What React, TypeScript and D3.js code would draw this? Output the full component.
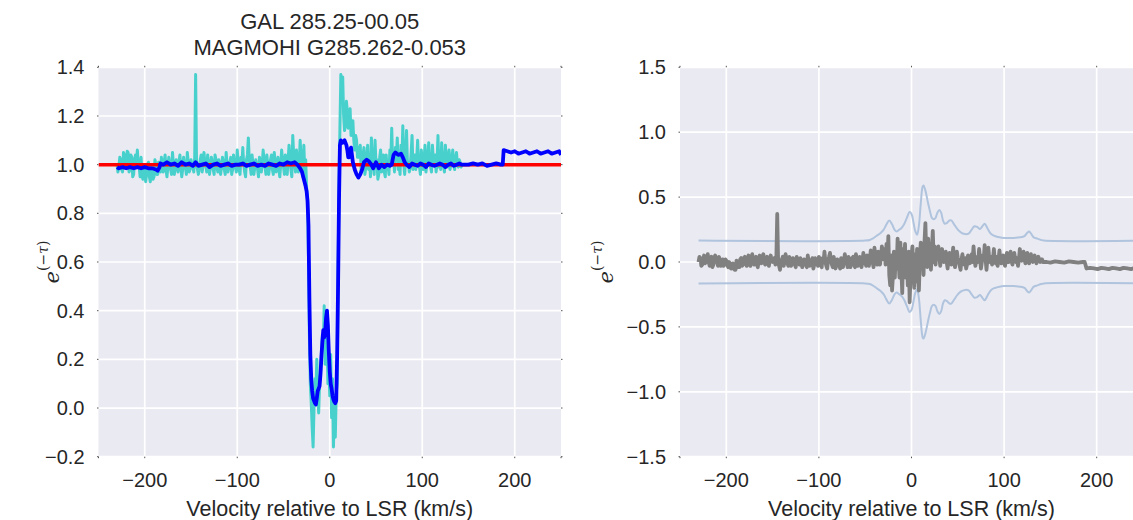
import React from "react";
import * as d3 from "d3";

// ---------- DATA ----------
const xTicks = [-200, -100, 0, 100, 200];
const leftYTicks = [-0.2, 0, 0.2, 0.4, 0.6, 0.8, 1.0, 1.2, 1.4];
const rightYTicks = [-1.5, -1.0, -0.5, 0.0, 0.5, 1.0, 1.5];
const titleLines = ["GAL 285.25-00.05", "MAGMOHI G285.262-0.053"];
const xLabel = "Velocity relative to LSR (km/s)";

// observed absorption spectrum (turquoise): [velocity, e^-tau]
const observed: [number, number][] = [
  [-230, 1.0], [-229, 0.97], [-228, 0.99], [-227, 1.03], [-226, 1.02], [-225, 0.98], [-224, 0.97], [-223, 1.05], [-222, 1.04], [-221, 0.99], [-220, 1.0],
  [-219, 1.055], [-218, 1.05], [-217, 0.97], [-216, 0.98], [-215, 1.04], [-214, 1.03], [-213, 0.95], [-212, 0.96], [-211, 1.02], [-210, 1.04],
  [-209, 1.0], [-208, 1.06], [-207, 1.0], [-206, 0.99], [-205, 0.95], [-204, 1.03], [-203, 0.96], [-202, 0.94], [-201, 1.0], [-200, 0.99],
  [-199, 0.93], [-198, 0.96], [-197, 1.0], [-196, 1.01], [-195, 0.95], [-194, 0.93], [-193, 0.99], [-192, 0.98], [-191, 0.94], [-190, 0.95],
  [-189, 1.02], [-188, 1.0], [-187, 0.96], [-186, 0.96], [-185, 1.01], [-184, 0.99], [-183, 0.97], [-182, 1.03], [-181, 1.0], [-180, 0.97],
  [-179, 1.01], [-178, 1.04], [-177, 0.98], [-176, 0.95], [-175, 0.99], [-174, 1.03], [-173, 1.0], [-172, 0.98], [-171, 0.96], [-170, 1.05],
  [-169, 1.0], [-168, 0.96], [-167, 0.99], [-166, 1.02], [-165, 1.0], [-164, 0.97], [-163, 1.01], [-162, 1.04], [-161, 0.99], [-160, 0.95],
  [-159, 0.98], [-158, 1.03], [-157, 1.0], [-156, 0.99], [-155, 0.96], [-154, 1.05], [-153, 1.01], [-152, 0.97], [-151, 0.98], [-150, 1.02],
  [-149, 1.0], [-148, 0.99], [-147, 0.97], [-146, 1.03], [-145, 1.37], [-144, 1.0], [-143, 0.98], [-142, 0.96], [-141, 0.99], [-140, 1.02],
  [-139, 1.04], [-138, 0.97], [-137, 0.99], [-136, 1.05], [-135, 1.01], [-134, 1.0], [-133, 0.97], [-132, 1.04], [-131, 1.0], [-130, 0.96],
  [-129, 0.99], [-128, 1.03], [-127, 1.01], [-126, 0.98], [-125, 0.96], [-124, 1.04], [-123, 1.02], [-122, 0.99], [-121, 0.97], [-120, 1.02],
  [-119, 1.0], [-118, 0.96], [-117, 0.99], [-116, 1.03], [-115, 1.01], [-114, 0.98], [-113, 0.96], [-112, 1.05], [-111, 1.0], [-110, 0.97],
  [-109, 0.99], [-108, 1.01], [-107, 1.03], [-106, 0.96], [-105, 0.98], [-104, 1.04], [-103, 1.0], [-102, 0.99], [-101, 0.97], [-100, 1.06],
  [-99, 1.01], [-98, 0.98], [-97, 0.96], [-96, 1.03], [-95, 1.0], [-94, 1.07], [-93, 1.0], [-92, 0.97], [-91, 0.95], [-90, 1.02],
  [-89, 1.04], [-88, 1.11], [-87, 1.02], [-86, 0.99], [-85, 0.96], [-84, 1.04], [-83, 1.0], [-82, 0.96], [-81, 0.99], [-80, 1.02],
  [-79, 1.0], [-78, 0.98], [-77, 0.95], [-76, 1.03], [-75, 1.01], [-74, 0.97], [-73, 1.0], [-72, 1.06], [-71, 1.02], [-70, 0.99],
  [-69, 0.96], [-68, 1.04], [-67, 1.0], [-66, 0.96], [-65, 0.99], [-64, 1.02], [-63, 1.04], [-62, 0.98], [-61, 0.96], [-60, 1.05],
  [-59, 1.01], [-58, 0.97], [-57, 0.99], [-56, 1.03], [-55, 0.98], [-54, 0.95], [-53, 1.0], [-52, 1.06], [-51, 1.02], [-50, 0.99],
  [-49, 0.96], [-48, 1.04], [-47, 1.0], [-46, 0.96], [-45, 1.02], [-44, 1.08], [-43, 1.03], [-42, 0.98], [-41, 0.95], [-40, 1.12],
  [-39, 1.04], [-38, 1.0], [-37, 0.97], [-36, 1.06], [-35, 1.01], [-34, 0.97], [-33, 1.0], [-32, 1.1], [-31, 1.03], [-30, 0.99],
  [-29, 0.95], [-28, 1.08], [-27, 0.97], [-26, 1.02], [-25, 0.9], [-24, 0.86], [-23, 0.62], [-22, 0.3], [-21, 0.1],
  [-20, 0.02], [-19, -0.08], [-18, -0.16], [-17, 0.0], [-16, 0.12], [-15, 0.05], [-14, 0.2], [-13, 0.06],
  [-12, -0.02], [-11, 0.1], [-10, 0.14], [-9, 0.22], [-8, 0.3], [-7, 0.25], [-6, 0.42], [-5, 0.18],
  [-4, 0.3], [-3, 0.34], [-2, 0.1], [-1, 0.18], [0, 0.05], [1, 0.22], [2, -0.04], [3, 0.12],
  [4, -0.16], [5, 0.02], [6, -0.12], [7, 0.06], [8, 0.1], [9, 0.55], [10, 0.92], [11, 1.15],
  [12, 1.37], [13, 1.3], [14, 1.36], [15, 1.2], [16, 1.14], [17, 1.16], [18, 1.26], [19, 1.22],
  [20, 1.15], [21, 1.18], [22, 1.23], [23, 1.12], [24, 1.14], [25, 1.18], [26, 1.1], [27, 1.06],
  [28, 1.12], [29, 1.1], [30, 1.03], [31, 1.07], [32, 1.03], [33, 1.08], [34, 0.97],
  [35, 1.0], [36, 1.04], [37, 1.07], [38, 0.96], [39, 0.99], [40, 1.03], [41, 1.08], [42, 0.98], [43, 1.03], [44, 0.95], [45, 1.11], [46, 1.02], [47, 1.0], [48, 0.96], [49, 1.1],
  [50, 1.0], [51, 1.02], [52, 0.94], [53, 0.96], [54, 1.03], [55, 1.06], [56, 0.97], [57, 1.01], [58, 1.04], [59, 0.97], [60, 0.95], [61, 1.04], [62, 0.98], [63, 1.0], [64, 0.96], [65, 1.06],
  [66, 1.01], [67, 1.15], [68, 1.0], [69, 1.03], [70, 0.97], [71, 1.07], [72, 1.02], [73, 1.11], [74, 0.98], [75, 1.0], [76, 0.96], [77, 1.08], [78, 1.01], [79, 1.16], [80, 1.0], [81, 0.96],
  [82, 1.02], [83, 1.14], [84, 1.0], [85, 1.01], [86, 0.97], [87, 0.99], [88, 1.05], [89, 1.12], [90, 0.98], [91, 1.0], [92, 1.04], [93, 0.98], [94, 1.02], [95, 1.1], [96, 1.0], [97, 0.99],
  [98, 0.96], [99, 1.06], [100, 1.0], [101, 0.98], [102, 1.02], [103, 1.08], [104, 0.97], [105, 1.0], [106, 1.03], [107, 1.09], [108, 1.0], [109, 0.99], [110, 0.97], [111, 1.08], [112, 1.02], [113, 1.0],
  [114, 1.04], [115, 0.97], [116, 1.01], [117, 1.12], [118, 0.99], [119, 1.02], [120, 0.98], [121, 1.09], [122, 1.01], [123, 1.0], [124, 0.97], [125, 1.08], [126, 1.02], [127, 0.99], [128, 1.03], [129, 1.06],
  [130, 0.98], [131, 1.0], [132, 1.03], [133, 1.06], [134, 1.0], [135, 0.98], [136, 1.02], [137, 1.05], [138, 1.0], [139, 0.99], [140, 1.02], [141, 1.01], [142, 0.99], [143, 1.0],
];

// fitted / smoothed spectrum (blue)
const model: [number, number][] = [
  [-230, 0.99], [-228, 0.985], [-224, 0.99], [-220, 0.985], [-216, 0.99], [-212, 0.985], [-208, 0.99], [-204, 0.985],
  [-200, 0.99], [-196, 0.985], [-192, 0.985], [-188, 0.98], [-186, 0.975], [-184, 0.99], [-183, 1.005], [-180, 1.0],
  [-176, 1.01], [-172, 1.0], [-168, 1.005], [-164, 0.995], [-160, 1.01], [-156, 1.0], [-152, 1.005], [-148, 0.995],
  [-145, 1.01], [-142, 0.995], [-138, 1.0], [-134, 1.005], [-130, 0.99], [-126, 1.0], [-122, 1.005], [-118, 0.995],
  [-114, 1.0], [-110, 1.005], [-106, 0.995], [-102, 1.0], [-98, 1.0], [-94, 1.005], [-90, 0.995], [-86, 1.0],
  [-82, 1.005], [-78, 0.995], [-74, 1.0], [-70, 0.995], [-66, 1.005], [-62, 1.0], [-58, 0.995], [-54, 1.005],
  [-50, 1.0], [-46, 1.01], [-42, 1.005], [-38, 1.01], [-35, 1.0], [-32, 0.985], [-30, 0.97], [-28, 0.94],
  [-26, 0.91], [-25, 0.89], [-24, 0.85], [-23, 0.75], [-22, 0.45], [-21, 0.22], [-20, 0.12], [-19, 0.07],
  [-18, 0.04], [-16, 0.02], [-15, 0.015], [-14, 0.04], [-13, 0.07], [-12, 0.08], [-11, 0.09], [-10, 0.14],
  [-9, 0.21], [-8, 0.27], [-7, 0.32], [-6, 0.29], [-5, 0.31], [-4, 0.37], [-3, 0.4], [-2, 0.34],
  [-1, 0.23], [0, 0.15], [1, 0.1], [2, 0.08], [3, 0.05], [4, 0.035], [5, 0.025], [6, 0.02],
  [7, 0.03], [8, 0.22], [9, 0.5], [10, 0.85], [11, 1.08], [12, 1.1], [14, 1.09], [16, 1.1],
  [18, 1.08], [19, 1.06], [20, 1.03], [21, 1.03], [22, 1.06], [23, 1.07], [24, 1.04], [25, 1.01],
  [27, 0.98], [29, 0.96], [31, 0.947], [33, 0.96], [35, 0.98], [37, 1.01], [40, 1.02], [42, 1.015],
  [45, 1.0], [47, 0.985], [50, 1.01], [53, 0.985], [56, 1.0], [59, 0.99], [62, 1.0], [65, 0.995],
  [67, 1.0], [69, 1.04], [71, 1.05], [74, 1.04], [77, 1.045], [79, 1.03], [81, 1.01], [83, 1.0],
  [86, 0.99], [89, 1.005], [92, 1.0], [95, 0.995], [98, 1.005], [101, 1.0], [104, 0.99], [107, 1.005],
  [110, 1.0], [113, 0.995], [116, 1.0], [119, 1.005], [122, 1.0], [125, 0.99], [128, 1.0], [131, 1.005],
  [134, 0.995], [137, 1.0], [140, 1.005], [143, 1.0], [146, 1.0], [150, 1.0], [155, 1.005], [160, 1.0],
  [165, 1.005], [170, 0.995], [175, 1.0], [180, 1.005], [185, 1.0], [187, 1.0], [188, 1.06], [192, 1.055],
  [196, 1.05], [200, 1.055], [204, 1.045], [208, 1.05], [212, 1.055], [216, 1.045], [220, 1.05], [224, 1.055],
  [228, 1.045], [232, 1.05], [236, 1.055], [240, 1.045], [244, 1.05], [248, 1.055], [250, 1.04],
];

const continuumLevel = 1.0;

// residual spectrum (gray, right panel)
const residual: [number, number][] = [
  [-230, 0.0], [-229, 0.04], [-228, 0.03], [-227, -0.03], [-226, -0.02], [-225, 0.02], [-224, 0.05], [-223, -0.01], [-222, 0.0], [-221, 0.03], [-220, 0.06],
  [-219, 0.0], [-218, -0.03], [-217, 0.02], [-216, 0.04], [-215, -0.04], [-214, -0.02], [-213, 0.03], [-212, 0.05], [-211, 0.01], [-210, 0.0],
  [-209, -0.03], [-208, 0.04], [-207, 0.01], [-206, -0.03], [-205, 0.0], [-204, 0.02], [-203, -0.03], [-202, -0.02], [-201, 0.02], [-200, 0.01],
  [-199, -0.02], [-198, -0.04], [-197, 0.0], [-196, -0.01], [-195, -0.05], [-194, -0.05], [-193, -0.01], [-192, -0.02], [-191, -0.06], [-190, -0.06],
  [-189, 0.01], [-188, 0.0], [-187, -0.04], [-186, -0.04], [-185, 0.02], [-184, 0.03], [-183, -0.03], [-182, -0.02], [-181, 0.03], [-180, 0.04],
  [-179, -0.01], [-178, -0.03], [-177, 0.02], [-176, 0.05], [-175, -0.01], [-174, -0.03], [-173, 0.02], [-172, 0.06], [-171, 0.0], [-170, -0.02],
  [-169, 0.03], [-168, 0.04], [-167, -0.02], [-166, -0.04], [-165, 0.01], [-164, 0.05], [-163, 0.0], [-162, -0.01], [-161, 0.04], [-160, 0.06],
  [-159, 0.0], [-158, -0.02], [-157, 0.03], [-156, 0.04], [-155, -0.01], [-154, -0.03], [-153, 0.02], [-152, 0.05], [-151, 0.01], [-150, 0.0],
  [-149, 0.02], [-148, 0.03], [-147, -0.02], [-146, 0.01], [-145, 0.37], [-144, 0.0], [-143, -0.03], [-142, -0.06], [-141, 0.0], [-140, 0.02],
  [-139, 0.04], [-138, -0.03], [-137, 0.01], [-136, 0.06], [-135, 0.02], [-134, -0.01], [-133, -0.03], [-132, 0.04], [-131, 0.01], [-130, -0.03],
  [-129, 0.0], [-128, 0.03], [-127, 0.01], [-126, -0.02], [-125, -0.04], [-124, 0.04], [-123, 0.02], [-122, 0.0], [-121, -0.02], [-120, 0.03],
  [-119, 0.0], [-118, -0.04], [-117, -0.01], [-116, 0.02], [-115, 0.01], [-114, -0.02], [-113, -0.04], [-112, 0.05], [-111, 0.0], [-110, -0.03],
  [-109, -0.01], [-108, 0.01], [-107, 0.03], [-106, -0.05], [-105, -0.02], [-104, 0.03], [-103, 0.0], [-102, -0.01], [-101, -0.03], [-100, 0.04],
  [-99, 0.01], [-98, -0.02], [-97, -0.04], [-96, 0.03], [-95, 0.0], [-94, 0.08], [-93, 0.0], [-92, -0.03], [-91, -0.05], [-90, 0.02],
  [-89, 0.04], [-88, 0.07], [-87, 0.01], [-86, -0.02], [-85, -0.04], [-84, 0.04], [-83, 0.0], [-82, -0.05], [-81, -0.01], [-80, 0.02],
  [-79, 0.0], [-78, -0.03], [-77, -0.05], [-76, 0.03], [-75, 0.01], [-74, -0.04], [-73, 0.0], [-72, 0.06], [-71, 0.02], [-70, 0.0],
  [-69, -0.04], [-68, 0.04], [-67, 0.0], [-66, -0.04], [-65, -0.01], [-64, 0.03], [-63, 0.04], [-62, -0.02], [-61, -0.04], [-60, 0.06],
  [-59, 0.01], [-58, -0.03], [-57, -0.01], [-56, 0.04], [-55, -0.01], [-54, -0.04], [-53, 0.0], [-52, 0.07], [-51, 0.02], [-50, 0.0],
  [-49, -0.03], [-48, 0.05], [-47, 0.0], [-46, -0.03], [-45, 0.02], [-44, 0.09], [-43, 0.03], [-42, 0.0], [-41, -0.04], [-40, 0.11],
  [-39, 0.04], [-38, 0.02], [-37, -0.02], [-36, 0.08], [-35, 0.02], [-34, -0.02], [-33, 0.03], [-32, 0.12], [-31, 0.05], [-30, 0.02],
  [-29, 0.1], [-28, -0.02], [-27, 0.14], [-26, 0.02], [-25, 0.2], [-24, -0.1], [-23, -0.18], [-22, 0.05],
  [-21, -0.22], [-20, -0.1], [-19, 0.08], [-18, -0.12], [-17, 0.06], [-16, -0.05], [-15, 0.18], [-14, 0.02],
  [-13, -0.12], [-12, 0.15], [-11, -0.05], [-10, -0.24], [-9, 0.1], [-8, -0.08], [-7, 0.14], [-6, -0.12],
  [-5, 0.05], [-4, -0.18], [-3, 0.08], [-2, -0.31], [-1, -0.1], [0, 0.05], [1, 0.12], [2, -0.05],
  [3, -0.2], [4, 0.06], [5, -0.15], [6, 0.1], [7, -0.05], [8, -0.22], [9, 0.02], [10, 0.15],
  [11, -0.02], [12, 0.08], [13, -0.1], [14, 0.15], [15, 0.3], [16, 0.05], [17, -0.04], [18, 0.18],
  [19, 0.02], [20, 0.14], [21, -0.06], [22, 0.1], [23, 0.24], [24, 0.0], [25, 0.12], [26, -0.02],
  [27, 0.09], [28, 0.03], [29, 0.12], [30, 0.04],
  [31, -0.03], [32, 0.05], [33, 0.1], [34, 0.02], [35, 0.0], [36, 0.04], [37, 0.08], [38, 0.0], [39, -0.05], [40, 0.02], [41, 0.07], [42, 0.03], [43, -0.02], [44, 0.04], [45, 0.11],
  [46, 0.02], [47, -0.04], [48, 0.02], [49, 0.08], [50, 0.03], [51, 0.01], [52, -0.03], [53, -0.06], [54, 0.02], [55, 0.06], [56, 0.0], [57, -0.02], [58, 0.03], [59, -0.05], [60, -0.02],
  [61, 0.05], [62, 0.0], [63, -0.01], [64, 0.02], [65, 0.06], [66, 0.0], [67, 0.12], [68, 0.02], [69, -0.03], [70, 0.01], [71, 0.04], [72, 0.0], [73, 0.1], [74, 0.03], [75, -0.05],
  [76, 0.0], [77, 0.05], [78, 0.02], [79, 0.13], [80, 0.02], [81, -0.06], [82, 0.03], [83, 0.11], [84, 0.02], [85, 0.0], [86, 0.04], [87, -0.02], [88, 0.03], [89, 0.1], [90, 0.0],
  [91, -0.01], [92, 0.04], [93, -0.03], [94, 0.02], [95, 0.09], [96, 0.01], [97, -0.01], [98, 0.03], [99, 0.05], [100, 0.0], [101, -0.03], [102, 0.02], [103, 0.07], [104, 0.0], [105, 0.0],
  [106, 0.03], [107, 0.08], [108, 0.01], [109, -0.02], [110, 0.02], [111, 0.07], [112, 0.02], [113, 0.0], [114, 0.03], [115, -0.03], [116, 0.02], [117, 0.1], [118, 0.02], [119, 0.01], [120, 0.04],
  [121, 0.08], [122, 0.02], [123, -0.01], [124, 0.03], [125, 0.07], [126, 0.01], [127, -0.01], [128, 0.03], [129, 0.06], [130, 0.01], [131, 0.0], [132, 0.03], [133, 0.05], [134, 0.01], [135, -0.01],
  [136, 0.02], [137, 0.04], [138, 0.01], [139, 0.0], [140, 0.02], [141, 0.02], [142, 0.0],
  [143, 0.0], [146, 0.0], [150, -0.005], [155, 0.005], [160, 0.0], [165, -0.005], [170, 0.005], [175, 0.0],
  [180, -0.005], [185, 0.0], [187, 0.0], [189, -0.05], [193, -0.045], [197, -0.05], [201, -0.055], [205, -0.045],
  [209, -0.05], [213, -0.055], [217, -0.045], [221, -0.05], [225, -0.055], [229, -0.045], [233, -0.05], [237, -0.055],
  [241, -0.045], [245, -0.05], [250, -0.055],
];

// noise envelope (1 sigma), plotted as +sigma and -sigma
const sigma: [number, number][] = [
  [-230, 0.165], [-50, 0.165], [-45, 0.17], [-42, 0.18], [-38, 0.2], [-34, 0.22], [-30, 0.25], [-27, 0.29],
  [-24, 0.32], [-21, 0.29], [-18, 0.245], [-16, 0.235], [-13, 0.25], [-11, 0.26], [-8, 0.29], [-5, 0.34],
  [-2, 0.385], [0, 0.37], [2, 0.31], [4, 0.24], [6, 0.21], [8, 0.28], [10, 0.45], [12, 0.58],
  [13, 0.59], [15, 0.55], [18, 0.45], [20, 0.39], [22, 0.34], [24, 0.33], [26, 0.34], [28, 0.38],
  [30, 0.4], [32, 0.38], [34, 0.32], [36, 0.295], [38, 0.3], [41, 0.32], [43, 0.32], [46, 0.29],
  [50, 0.25], [54, 0.225], [58, 0.215], [62, 0.22], [65, 0.25], [68, 0.275], [71, 0.27], [74, 0.255],
  [77, 0.28], [79, 0.295], [82, 0.26], [86, 0.215], [90, 0.2], [95, 0.19], [100, 0.185], [110, 0.185],
  [117, 0.19], [122, 0.2], [125, 0.225], [127, 0.235], [129, 0.22], [132, 0.19], [136, 0.18], [140, 0.17],
  [143, 0.165], [250, 0.165],
];

// ---------- LAYOUT ----------
const W = 1133;
const H = 520;
const plotTop = 67.3;
const plotBottom = 456.7;
const left = { x0: 98.5, x1: 561, labelX: 52 };
const right = { x0: 680, x1: 1143, labelX: 606 };
const FONT = "'Liberation Sans', Arial, Helvetica, sans-serif";
const TEXT = "#262626";
const BG = "#EAEAF2";

function Panel({
  x0, x1, labelX, yDomain, yTicks, fmt, children,
}: {
  x0: number; x1: number; labelX: number; yDomain: [number, number]; yTicks: number[];
  fmt: (v: number) => string; children: (xs: any, ys: any) => React.ReactNode;
}) {
  const xs = d3.scaleLinear().domain([-250, 250]).range([x0, x1]);
  const ys = d3.scaleLinear().domain(yDomain).range([plotBottom, plotTop]);
  const id = `clip${Math.round(x0)}`;
  const labelY = (plotTop + plotBottom) / 2;
  return (
    <g>
      <defs>
        <clipPath id={id}>
          <rect x={x0} y={plotTop} width={x1 - x0} height={plotBottom - plotTop} />
        </clipPath>
      </defs>
      <rect x={x0} y={plotTop} width={x1 - x0} height={plotBottom - plotTop} fill={BG} />
      {xTicks.map((t) => (
        <line key={`gx${t}`} x1={xs(t)} x2={xs(t)} y1={plotTop} y2={plotBottom} stroke="#fff" strokeWidth={1.7} />
      ))}
      {yTicks.map((t) => (
        <line key={`gy${t}`} x1={x0} x2={x1} y1={ys(t)} y2={ys(t)} stroke="#fff" strokeWidth={1.7} />
      ))}
      <g clipPath={`url(#${id})`}>{children(xs, ys)}</g>
      {[-250, ...xTicks, 250].map((t) => (
        <g key={`tm${t}`}>
          <line x1={xs(t)} x2={xs(t)} y1={plotBottom} y2={plotBottom + 1.5} stroke="#555" strokeWidth={1} />
          <line x1={xs(t)} x2={xs(t)} y1={plotTop - 1.5} y2={plotTop} stroke="#555" strokeWidth={1} />
        </g>
      ))}
      {yTicks.map((t) => (
        <g key={`tmy${t}`}>
          <line x1={x0 - 1.5} x2={x0} y1={ys(t)} y2={ys(t)} stroke="#555" strokeWidth={1} />
          <line x1={x1} x2={x1 + 1.5} y1={ys(t)} y2={ys(t)} stroke="#555" strokeWidth={1} />
        </g>
      ))}
      {xTicks.map((t) => (
        <text key={`xl${t}`} x={xs(t)} y={plotBottom + 30} textAnchor="middle" fontSize={20} fill={TEXT} fontFamily={FONT}>
          {t < 0 ? `\u2212${Math.abs(t)}` : `${t}`}
        </text>
      ))}
      {yTicks.map((t) => (
        <text key={`yl${t}`} x={x0 - 14} y={ys(t) + 7} textAnchor="end" fontSize={20} fill={TEXT} fontFamily={FONT}>
          {fmt(t)}
        </text>
      ))}
      <text x={(x0 + x1) / 2} y={516} textAnchor="middle" fontSize={21.5} fill={TEXT} fontFamily={FONT}>
        {xLabel}
      </text>
      <text
        transform={`translate(${labelX},${labelY}) rotate(-90)`}
        textAnchor="middle"
        fill={TEXT}
        fontFamily="'DejaVu Serif', serif"
        fontStyle="italic"
      >
        <tspan fontSize={21} dy={7}>e</tspan>
        <tspan fontSize={14} dy={-11} fontStyle="normal">(−</tspan>
        <tspan fontSize={14} fontStyle="italic">τ</tspan>
        <tspan fontSize={14} fontStyle="normal">)</tspan>
      </text>
    </g>
  );
}

const fmtSigned = (digits: number) => (v: number) => {
  const s = Math.abs(v).toFixed(digits);
  return v < 0 ? `\u2212${s}` : s;
};

export default function App() {
  const lineGen = (xs: any, ys: any) =>
    d3.line<[number, number]>().x((d) => xs(d[0])).y((d) => ys(d[1]));
  const smooth = (xs: any, ys: any) =>
    d3.line<[number, number]>().x((d) => xs(d[0])).y((d) => ys(d[1])).curve(d3.curveCatmullRom.alpha(0.5));

  return (
    <svg width={W} height={H} style={{ position: "absolute", left: 0, top: 0, display: "block", background: "#fff" }}>
      <text x={(left.x0 + left.x1) / 2} y={29} textAnchor="middle" fontSize={22} fill={TEXT} fontFamily={FONT}>
        {titleLines[0]}
      </text>
      <text x={(left.x0 + left.x1) / 2} y={55} textAnchor="middle" fontSize={22} fill={TEXT} fontFamily={FONT}>
        {titleLines[1]}
      </text>
      <Panel x0={left.x0} x1={left.x1} labelX={left.labelX} yDomain={[-0.2, 1.4]} yTicks={leftYTicks} fmt={fmtSigned(1)}>
        {(xs, ys) => (
          <>
            <path d={lineGen(xs, ys)(observed) || ""} fill="none" stroke="#48D1CC" strokeWidth={3} strokeLinejoin="round" />
            <line x1={xs(-250)} x2={xs(250)} y1={ys(continuumLevel)} y2={ys(continuumLevel)} stroke="#FF0000" strokeWidth={3.5} />
            <path d={lineGen(xs, ys)(model) || ""} fill="none" stroke="#0000FF" strokeWidth={3.8} strokeLinejoin="round" />
          </>
        )}
      </Panel>
      <Panel x0={right.x0} x1={right.x1} labelX={right.labelX} yDomain={[-1.5, 1.5]} yTicks={rightYTicks} fmt={fmtSigned(1)}>
        {(xs, ys) => (
          <>
            <path d={smooth(xs, ys)(sigma) || ""} fill="none" stroke="#B0C4DE" strokeWidth={2} />
            <path
              d={smooth(xs, ys)(sigma.map((d) => [d[0], -d[1]] as [number, number])) || ""}
              fill="none" stroke="#B0C4DE" strokeWidth={2}
            />
            <path d={lineGen(xs, ys)(residual) || ""} fill="none" stroke="#808080" strokeWidth={3.8} strokeLinejoin="round" />
          </>
        )}
      </Panel>
    </svg>
  );
}
